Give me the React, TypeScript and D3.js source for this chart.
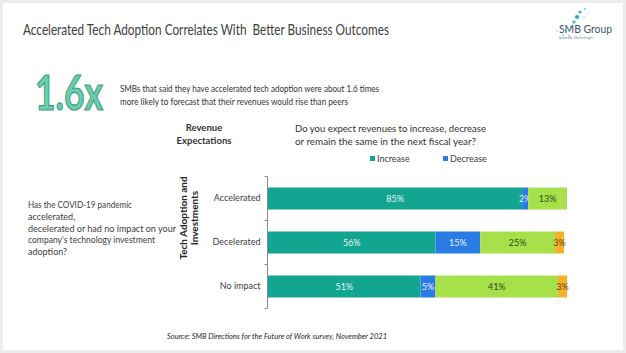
import { useEffect, useRef } from 'react';
import * as d3 from 'd3';

const adoption = ['Accelerated', 'Decelerated', 'No impact'];
const responses = ['Increase', 'Decrease', 'Same', 'Unsure'];
const increaseVals = [85, 56, 51];
const decreaseVals = [2, 15, 5];
const sameVals = [13, 25, 41];
const unsureVals = [0, 3, 3];
const legendKeys = ['Increase', 'Decrease'];

const colors = ['#12a592', '#2b7be4', '#a6e04a', '#f5b127'];
const labelColors = ['#e8f8f4', '#e8f0ff', '#2f4a14', '#6a4a10'];

const FONT = 'Lato, "Open Sans", sans-serif';

function App() {
  const svgRef = useRef<SVGSVGElement>(null);

  useEffect(() => {
    if (!svgRef.current) return;
    const svg = d3.select(svgRef.current);
    svg.selectAll('*').remove();

    const width = 626;
    const height = 353;

    // frame
    svg.append('rect').attr('width', width).attr('height', height).attr('fill', '#ececec');
    svg.append('rect').attr('x', 3).attr('y', 3).attr('width', width - 6).attr('height', 347).attr('fill', '#ffffff');

    // title
    svg.append('text')
      .attr('x', 23).attr('y', 35)
      .attr('font-family', FONT).attr('font-size', 16)
      .attr('fill', '#404040')
      .attr('textLength', 366).attr('lengthAdjust', 'spacingAndGlyphs')
      .style('white-space', 'pre')
      .text('Accelerated Tech Adoption Correlates With  Better Business Outcomes');

    // logo
    const logo = svg.append('g');
    const dots: [number, number, number, string][] = [
      [580, 12, 1.6, '#3fb6c9'], [585, 9, 1.2, '#9ad8e0'], [577, 17, 2, '#2aa7c0'],
      [574, 22, 1.8, '#58c0cf'], [571, 27, 1.5, '#7fcfd8'], [566, 31, 1.2, '#a8dfe4'],
      [561, 27, 1, '#b8e6c8'], [557, 31, 1, '#c8eed0'], [584, 17, 1, '#bde6ee'],
      [588, 14, 1, '#cdeef2'], [563, 35, 1, '#a8d8e8'], [569, 36, 1, '#8ccfe0'],
    ];
    dots.forEach(([cx, cy, r, c]) => {
      logo.append('circle').attr('cx', cx).attr('cy', cy).attr('r', r).attr('fill', c);
    });
    logo.append('text')
      .attr('x', 559).attr('y', 33)
      .attr('font-family', FONT).attr('font-size', 11.5)
      .attr('fill', '#3b5577')
      .attr('textLength', 53).attr('lengthAdjust', 'spacingAndGlyphs')
      .text('SMB Group');
    logo.append('text')
      .attr('x', 559).attr('y', 38.5)
      .attr('font-family', FONT).attr('font-size', 3)
      .attr('fill', '#7a8a9a')
      .text('Actionable Market Insight');

    // 1.6x
    svg.append('text')
      .attr('x', 35).attr('y', 110)
      .attr('font-family', FONT).attr('font-size', 47).attr('font-weight', 700)
      .attr('fill', '#6ccdaa').attr('stroke', '#3f9e82').attr('stroke-width', 1.2)
      .attr('textLength', 68).attr('lengthAdjust', 'spacingAndGlyphs')
      .text('1.6x');

    const intro = [
      'SMBs that said they have accelerated tech adoption were about 1.6 times',
      'more likely to forecast that their revenues would rise than peers',
    ];
    const introLen = [259, 228];
    intro.forEach((t, i) => {
      svg.append('text')
        .attr('x', 120).attr('y', 92 + i * 13)
        .attr('font-family', FONT).attr('font-size', 10)
        .attr('fill', '#333333')
        .attr('textLength', introLen[i]).attr('lengthAdjust', 'spacingAndGlyphs')
        .text(t);
    });

    // Revenue Expectations header
    ['Revenue', 'Expectations'].forEach((t, i) => {
      svg.append('text')
        .attr('x', 204).attr('y', 131 + i * 12.5)
        .attr('text-anchor', 'middle')
        .attr('font-family', FONT).attr('font-size', 9.5).attr('font-weight', 700)
        .attr('fill', '#333333')
        .text(t);
    });

    const question = [
      'Do you expect revenues to increase, decrease',
      'or remain the same in the next fiscal year?',
    ];
    const qLen = [191, 181];
    question.forEach((t, i) => {
      svg.append('text')
        .attr('x', 295).attr('y', 132 + i * 13)
        .attr('font-family', FONT).attr('font-size', 10)
        .attr('fill', '#333333')
        .attr('textLength', qLen[i]).attr('lengthAdjust', 'spacingAndGlyphs')
        .text(t);
    });

    // left question
    const leftQ = [
      'Has the COVID-19 pandemic',
      'accelerated,',
      'decelerated or had no impact on your',
      "company's technology investment",
      'adoption?',
    ];
    const leftLen = [104, 0, 148, 127, 0];
    leftQ.forEach((t, i) => {
      const txt = svg.append('text')
        .attr('x', 28).attr('y', 208 + i * 11.8)
        .attr('font-family', FONT).attr('font-size', 9)
        .attr('fill', '#404040')
        .text(t);
      if (leftLen[i]) txt.attr('textLength', leftLen[i]).attr('lengthAdjust', 'spacingAndGlyphs');
    });

    // scales
    const x = d3.scaleLinear().domain([0, 100]).range([268, 567]);
    const y = d3.scaleBand<string>().domain(adoption).range([176.5, 308.5]).paddingInner(0.5).paddingOuter(0.25);

    const rows = adoption.map((a, i) => ({
      name: a,
      Increase: increaseVals[i],
      Decrease: decreaseVals[i],
      Same: sameVals[i],
      Unsure: unsureVals[i],
    }));
    const stack = d3.stack<typeof rows[0]>().keys(responses);
    const series = stack(rows);

    series.forEach((s, si) => {
      const g = svg.append('g');
      g.selectAll('rect')
        .data(s)
        .enter()
        .append('rect')
        .attr('x', d => x(d[0]))
        .attr('y', d => y(d.data.name) as number)
        .attr('width', d => x(d[1]) - x(d[0]))
        .attr('height', y.bandwidth())
        .attr('fill', colors[si]);
      g.selectAll('text')
        .data(s.filter(d => d[1] - d[0] > 0))
        .enter()
        .append('text')
        .attr('x', d => (x(d[0]) + x(d[1])) / 2)
        .attr('y', d => (y(d.data.name) as number) + y.bandwidth() / 2 + 3.3)
        .attr('text-anchor', 'middle')
        .attr('font-family', FONT).attr('font-size', 9)
        .attr('fill', labelColors[si])
        .text(d => `${d[1] - d[0]}%`);
    });

    // y axis
    const axisG = svg.append('g').attr('transform', 'translate(267.5,0)');
    const yAxis = d3.axisLeft(y).tickSize(0).tickPadding(7);
    axisG.call(yAxis);
    axisG.select('.domain').remove();
    axisG.selectAll('text')
      .attr('font-family', FONT).attr('font-size', 9)
      .attr('fill', '#404040');
    const step = y.step();
    const bounds = [176.5, 176.5 + step, 176.5 + 2 * step, 308.5];
    axisG.append('line').attr('x1', 0).attr('x2', 0).attr('y1', 176.5).attr('y2', 308.5)
      .attr('stroke', '#8c8c8c').attr('stroke-width', 1);
    bounds.forEach(b => {
      axisG.append('line').attr('x1', -3).attr('x2', 0).attr('y1', b).attr('y2', b)
        .attr('stroke', '#8c8c8c').attr('stroke-width', 1);
    });

    // axis title
    const at = svg.append('text')
      .attr('transform', 'translate(187,218) rotate(-90)')
      .attr('text-anchor', 'middle')
      .attr('font-family', FONT).attr('font-size', 10).attr('font-weight', 700)
      .attr('fill', '#262626');
    at.append('tspan').attr('x', 0).attr('dy', 0).text('Tech Adoption and');
    at.append('tspan').attr('x', 0).attr('dy', 11).text('Investments');

    // legend
    const legendX = [370, 443];
    legendKeys.forEach((k, i) => {
      svg.append('rect')
        .attr('x', legendX[i]).attr('y', 156).attr('width', 5).attr('height', 5)
        .attr('fill', colors[responses.indexOf(k)]);
      svg.append('text')
        .attr('x', legendX[i] + 7).attr('y', 162)
        .attr('font-family', FONT).attr('font-size', 9)
        .attr('fill', '#404040')
        .text(k);
    });

    // source
    svg.append('text')
      .attr('x', 167).attr('y', 339)
      .attr('font-family', FONT).attr('font-size', 7.5).attr('font-style', 'italic')
      .attr('fill', '#262626')
      .attr('textLength', 220).attr('lengthAdjust', 'spacingAndGlyphs')
      .text('Source: SMB Directions for the Future of Work survey, November 2021');
  }, []);

  return (
    <svg
      ref={svgRef}
      width={626}
      height={353}
      viewBox="0 0 626 353"
      style={{ position: 'absolute', left: 0, top: 0, display: 'block' }}
    />
  );
}

export default App;
